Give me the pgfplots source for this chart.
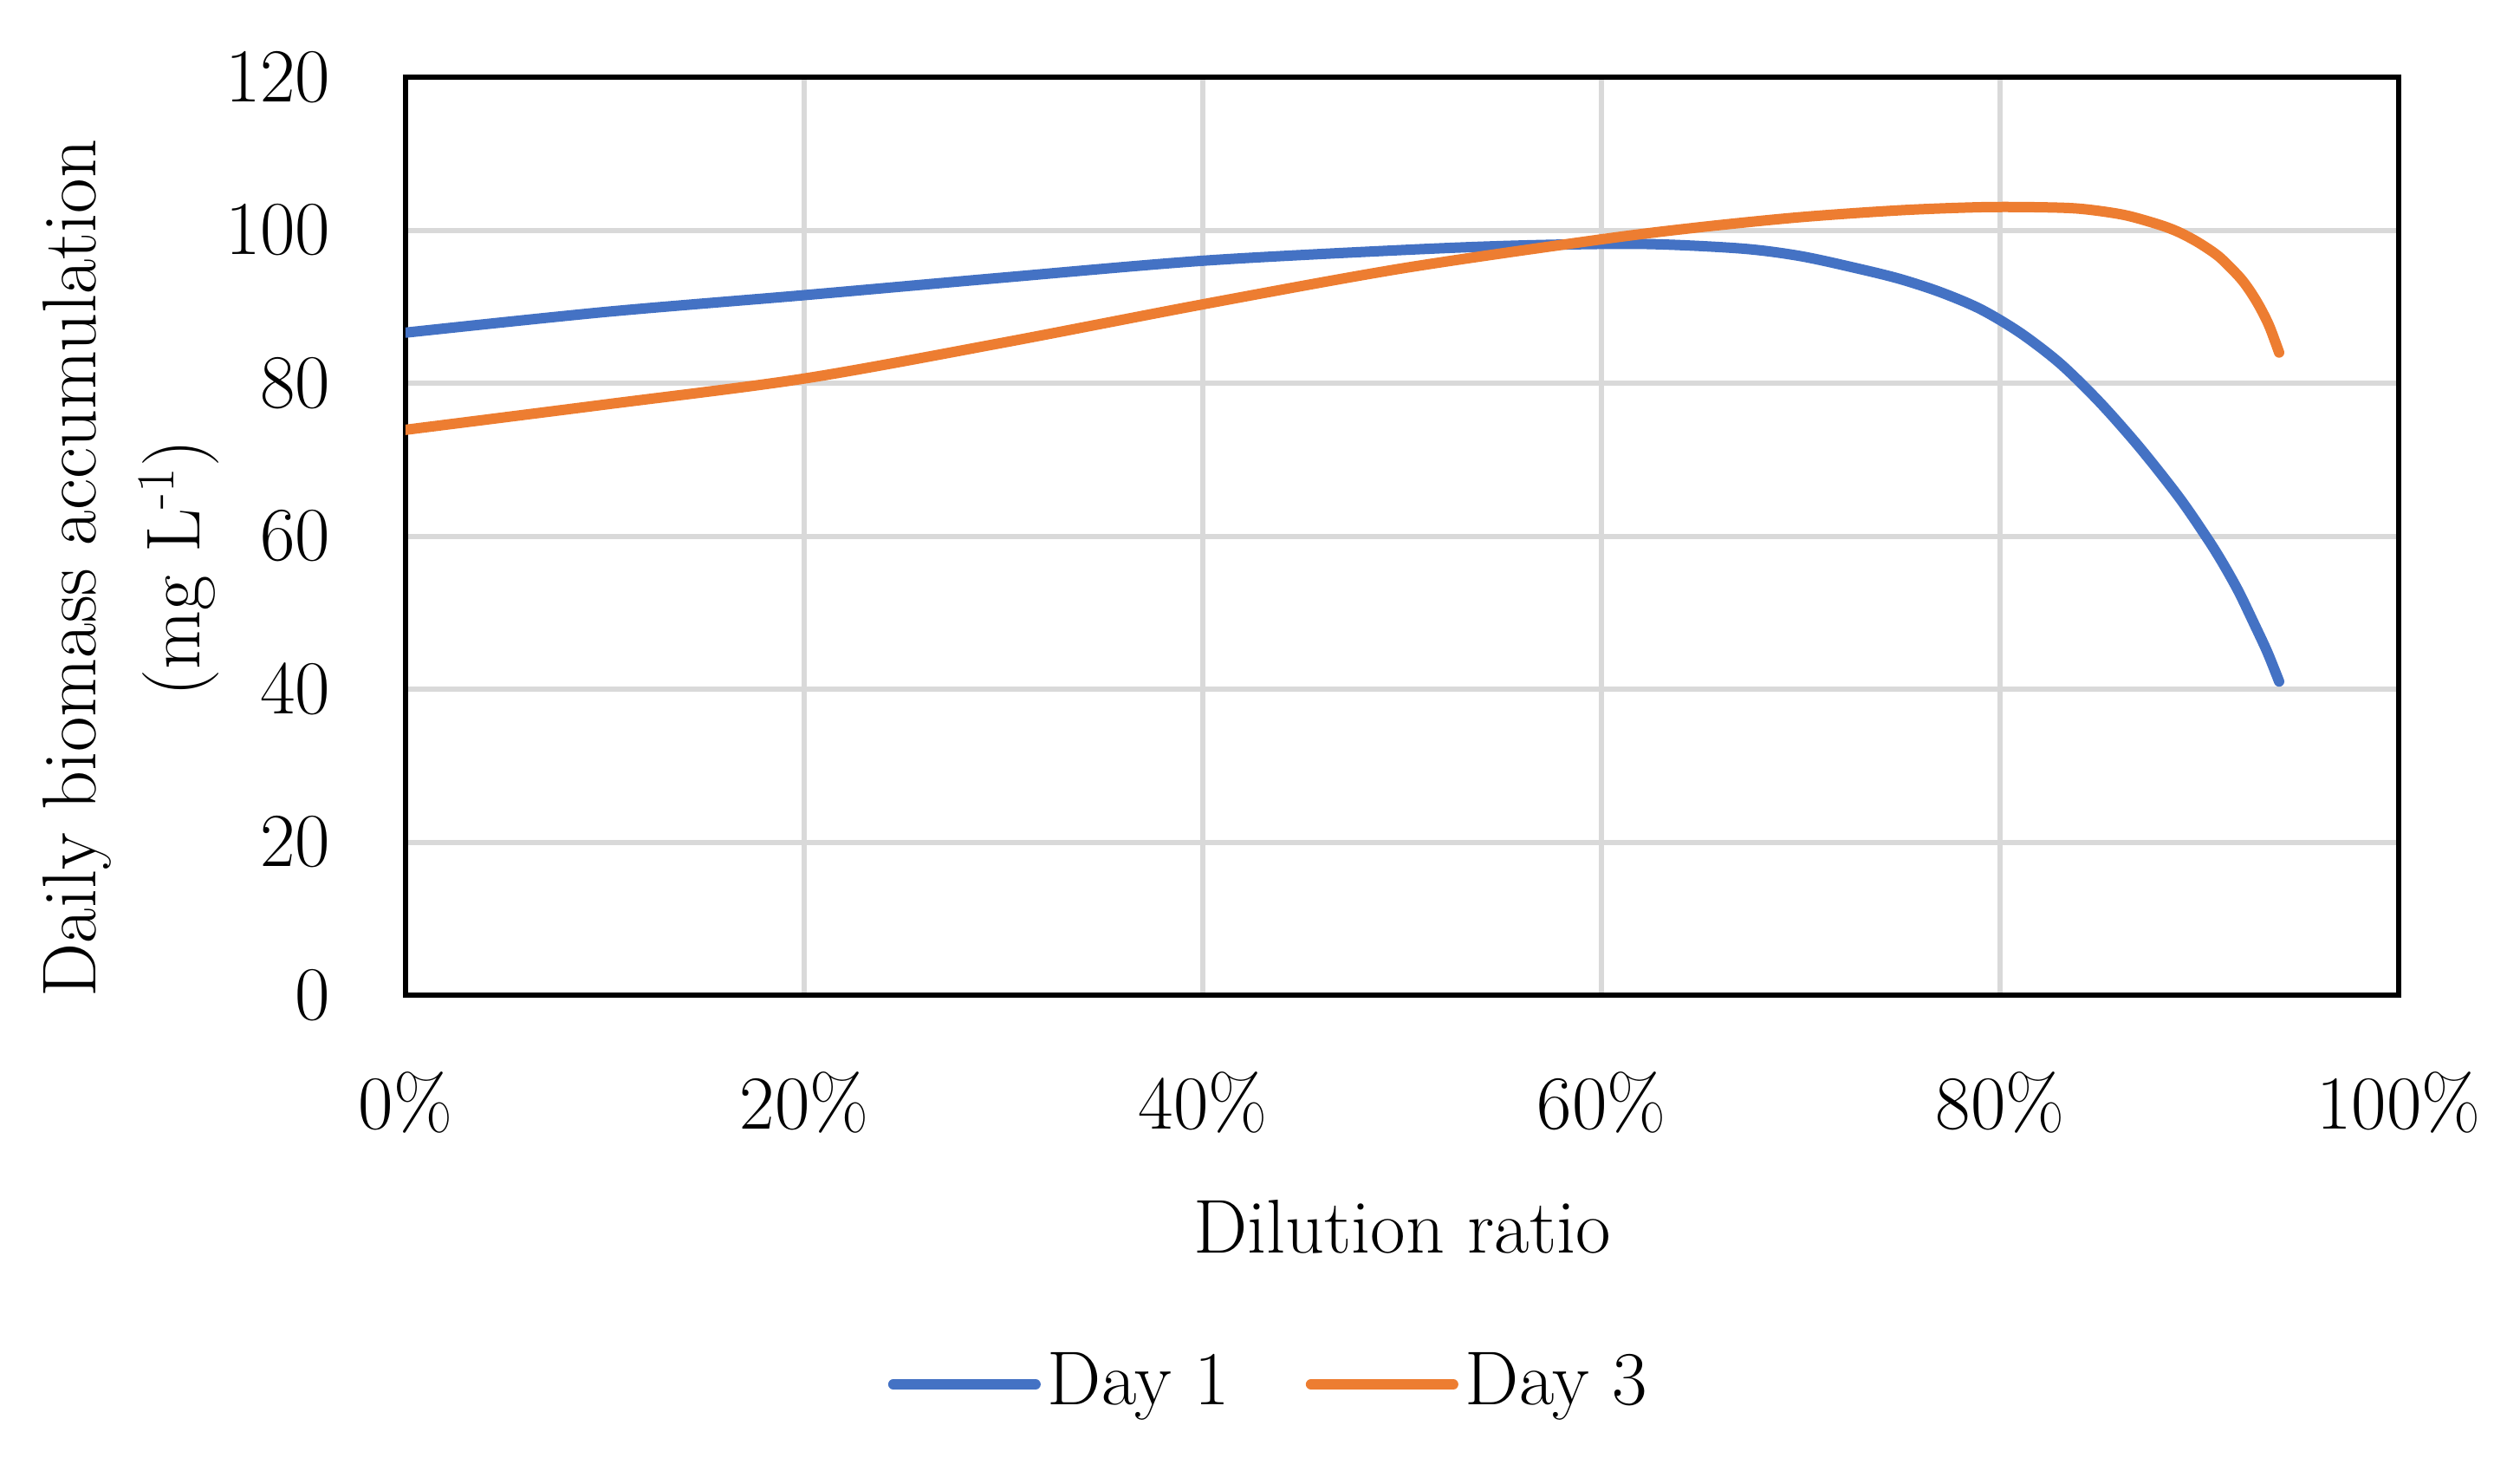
\documentclass[border=0pt]{standalone}
\usepackage{pgfplots}
\pgfplotsset{compat=1.18}
\definecolor{cblue}{HTML}{4472C4}
\definecolor{corange}{HTML}{ED7D31}
\definecolor{cgrid}{HTML}{D9D9D9}
\begin{document}
\fontsize{22}{26}\selectfont
\begin{tikzpicture}
\begin{axis}[
  scale only axis,
  width=575pt, height=264.75pt,
  xmin=0, xmax=100, ymin=0, ymax=120,
  xtick={0,20,40,60,80,100}, ytick={0,20,40,60,80,100,120},
  xticklabels={0\%,20\%,40\%,60\%,80\%,100\%},
  /pgf/number format/assume math mode=true,
  grid=major, major grid style={cgrid, line width=1.5pt},
  axis line style={line width=1.5pt, black},
  tick style={draw=none},
  yticklabel style={inner sep=0pt, xshift=-21.5pt},
  xticklabel style={inner sep=0pt, yshift=-22pt},
  xlabel={Dilution ratio},
  xlabel style={at={(axis description cs:0.5,-0.2805)}, anchor=base},
  ylabel={Daily biomass accumulation\\[4pt](mg L\textsuperscript{-1})},
  ylabel style={at={(axis description cs:-0.138,0.465)}, anchor=center, align=center},
  legend columns=2,
  legend style={at={(axis description cs:0.4343,-0.424)}, anchor=center, draw=none, fill=none,
    /tikz/every even column/.append style={column sep=20pt}},
  legend image code/.code={\draw[#1, line cap=round] (0pt,0pt) -- (41pt,0pt);},
]
\addplot[cblue, line width=3pt, smooth, tension=0.5, line cap=round, line join=round] coordinates {
(0,86.6) (10,89.3) (20,91.5) (30,93.8) (40,96.0) (50,97.4) (56,98.0) (62,98.2) (67,97.6) (70,96.6) (73,94.9) (75,93.6) (77,91.9) (79,89.7) (81,86.6) (83,82.6) (85,77.5) (87,71.6) (89,65.0) (90.5,59.3) (91.3,55.9) (92.0,52.6) (92.7,48.8) (93.4,44.9) (94.0,41.0)
};
\addlegendentry{Day 1}
\addplot[corange, line width=3pt, smooth, tension=0.5, line cap=round, line join=round] coordinates {
(0,73.9) (10,77.2) (20,80.6) (30,85.3) (40,90.3) (50,95.0) (60,98.8) (65,100.4) (70,101.7) (75,102.6) (79,103.0) (81.8,103.0) (84.0,102.8) (86.2,102.0) (88,100.7) (89,99.7) (90,98.3) (91,96.5) (92,93.9) (92.5,92.2) (93,90.1) (93.5,87.5) (94.0,84.0)
};
\addlegendentry{Day 3}
\coordinate (bl) at (rel axis cs:0,0);
\coordinate (tr) at (rel axis cs:1,1);
\end{axis}
\pgfresetboundingbox
\path[use as bounding box] ([xshift=-117pt,yshift=-133.25pt]bl) rectangle ([xshift=35pt,yshift=22.25pt]tr);
\end{tikzpicture}
\end{document}
